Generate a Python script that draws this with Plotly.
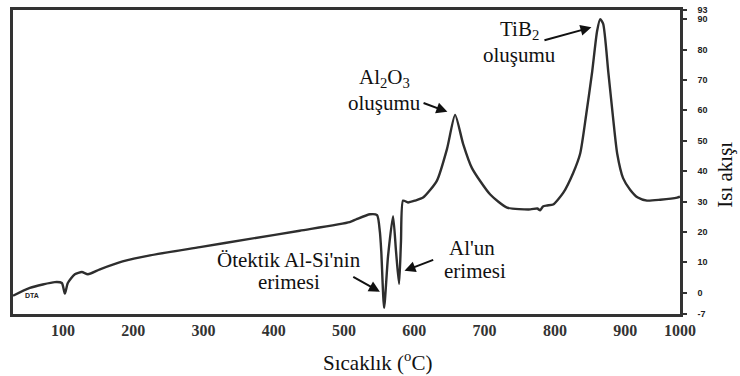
import plotly.graph_objects as go

# Temperature (°C) and heat-flow readings
temp = [29, 53, 88.6, 98.5, 102.8, 107, 117, 127, 135.6, 152.7, 185, 224, 295, 366,
        437, 508, 518, 537, 547, 551, 553, 557, 562.6, 569.7, 574, 578.3, 581, 584,
        591, 601, 612.5, 632, 646.6, 658, 669.4, 682, 708, 732, 765, 775, 779, 783,
        789, 797.5, 812, 826, 836, 844.6, 853, 860, 864.4, 868.7, 876, 883, 888.6,
        897, 907, 918, 931, 950, 974, 978]
heat = [-1.0, 1.6, 3.5, 3.2, -0.3, 3.2, 6.1, 6.8, 6.1, 7.7, 10.3, 12.3, 15.0, 17.7,
        20.4, 23.2, 24.2, 25.8, 25.5, 20.0, 13.5, -5.0, 12.0, 25.2, 13.5, 2.9, 16.8, 30.3,
        29.7, 30.3, 31.3, 36.8, 47.4, 58.5, 49.0, 41.0, 32.3, 28.0, 27.4, 27.7, 27.1, 28.4,
        28.7, 29.0, 32.9, 39.4, 45.8, 58.7, 72.6, 86.0, 90.0, 88.4, 72.6, 57.0, 45.8,
        37.7, 33.9, 31.3, 30.3, 30.6, 31.3, 31.6]

x_tickvals = [100, 200, 300, 400, 500, 600, 700, 800, 900, 978]
x_ticktext = ["100", "200", "300", "400", "500", "600", "700", "800", "900", "1000"]
y_tickvals = [-7, 0, 10, 20, 30, 40, 50, 60, 70, 80, 90, 93]
y_ticktext = ["-7", "0", "10", "20", "30", "40", "50", "60", "70", "80", "90", "93"]

x_title = "Sıcaklık (<sup>o</sup>C)"
y_title = "Isı akışı"

SERIF = "Liberation Serif, Times New Roman, Tinos, serif"

# Label lines: (text, temperature, heat flow)
labels = [
    ("Al<sub>2</sub>O<sub>3</sub>", 558, 70.5),
    ("oluşumu", 558, 62.3),
    ("TiB<sub>2</sub>", 750, 86.5),
    ("oluşumu", 750, 78.3),
    ("Ötektik Al-Si'nin", 422, 10.8),
    ("erimesi", 422, 3.4),
    ("Al'un", 682, 14.8),
    ("erimesi", 686, 7.3),
]
# Arrows: (tail T, tail v, head T, head v)
arrows = [
    (611, 62.6, 647, 59.5),
    (783, 82.9, 852, 87.3),
    (511, 5.5, 551, 0.3),
    (629, 11.0, 586, 7.2),
]

fig = go.Figure()
fig.add_trace(go.Scatter(x=temp, y=heat, mode="lines",
                         line=dict(color="#2e2e2e", width=2.4, shape="spline", smoothing=0.6),
                         hoverinfo="skip", showlegend=False))

for txt, tx, ty in labels:
    fig.add_annotation(x=tx, y=ty, xref="x", yref="y", text=txt, showarrow=False,
                       font=dict(family=SERIF, size=21, color="#111111"),
                       xanchor="center", yanchor="middle")
for t0, v0, t1, v1 in arrows:
    fig.add_annotation(x=t1, y=v1, ax=t0, ay=v0, xref="x", yref="y", axref="x", ayref="y",
                       text="", showarrow=True, arrowhead=2, arrowsize=1.1,
                       arrowwidth=2, arrowcolor="#111111")

fig.add_annotation(x=56, y=-0.8, xref="x", yref="y", text="<b>DTA</b>", showarrow=False,
                   font=dict(family="Liberation Sans, Arial, sans-serif", size=7, color="#222222"))

# axis titles
fig.add_annotation(x=548, y=-0.155, xref="x", yref="paper", text=x_title,
                   showarrow=False, xanchor="center", yanchor="middle",
                   font=dict(family=SERIF, size=21, color="#111111"))
fig.add_annotation(x=1.067, y=38.7, xref="paper", yref="y", text=y_title,
                   showarrow=False, textangle=-90, xanchor="center", yanchor="middle",
                   font=dict(family=SERIF, size=21, color="#111111"))

fig.update_xaxes(range=[29, 978], tickvals=x_tickvals, ticktext=x_ticktext,
                 showgrid=False, zeroline=False, showline=True, mirror=True,
                 linecolor="#333333", linewidth=2.5, ticks="",
                 tickfont=dict(family=SERIF, size=16, color="#333333", weight="bold"))
fig.update_yaxes(range=[-7, 93], side="right", tickvals=y_tickvals, ticktext=y_ticktext,
                 showgrid=False, zeroline=False, showline=True, mirror=True,
                 linecolor="#333333", linewidth=2.5, ticks="outside", ticklen=4,
                 tickcolor="#333333", tickwidth=2, ticklabelstandoff=9,
                 tickfont=dict(family="Liberation Sans, Arial, sans-serif", size=9,
                               color="#222222", weight="bold"))

fig.update_layout(width=740, height=376, margin=dict(l=13, r=60, t=5, b=62),
                  plot_bgcolor="white", paper_bgcolor="white")

fig.write_html("out.html")
